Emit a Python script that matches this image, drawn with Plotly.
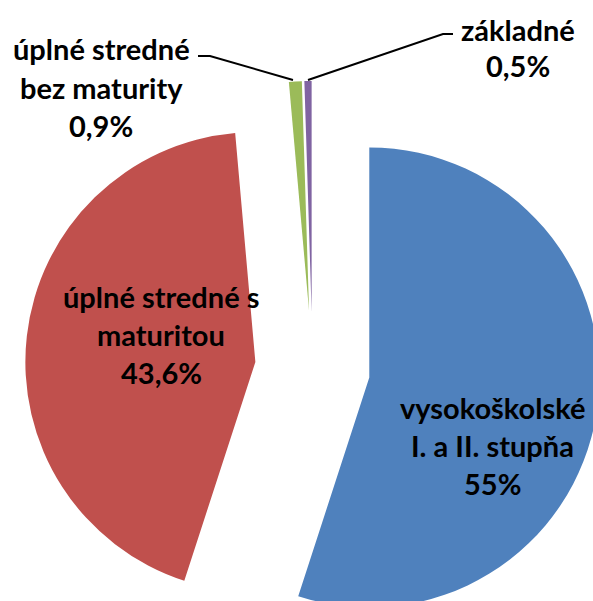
import plotly.graph_objects as go

# ---- data ----
categories = ["vysokoškolské I. a II. stupňa", "úplné stredné s maturitou",
              "úplné stredné bez maturity", "základné"]
values = [55, 43.6, 0.9, 0.5]
pct_labels = ["55%", "43,6%", "0,9%", "0,5%"]
label_lines = [["vysokoškolské", "I. a II. stupňa"],
               ["úplné stredné s", "maturitou"],
               ["úplné stredné", "bez maturity"],
               ["základné"]]
colors = ["#4F81BD", "#C0504D", "#9BBB59", "#8064A2"]

# ---- layout geometry (pixels) ----
ML, MT, MR, MB = 25, 81, 2, 2
PW = PH = 575
W, H = ML + PW + MR, MT + PH + MB


def px(x):
    return (x - ML) / PW


def py(y):
    return 1 - (y - MT) / PH


fig = go.Figure(go.Pie(
    labels=categories, values=values, sort=False, direction="clockwise",
    rotation=0, pull=[0.25] * 4, textinfo="none", hoverinfo="skip",
    marker=dict(colors=colors, line=dict(width=0)), showlegend=False,
))

# label placement (pixel centres of each text line)
label_pos = [
    (492, [407, 445, 483]),
    (161, [296, 334, 372]),
    (101, [48, 87, 125]),
    (518, [30, 66]),
]
font = dict(family="Lato", size=29, color="black", weight="bold")
annotations = []
for lines, pct, (cx, ys) in zip(label_lines, pct_labels, label_pos):
    for txt, yy in zip(lines + [pct], ys):
        annotations.append(dict(text=txt, x=px(cx), y=py(yy), xref="paper", yref="paper",
                                xanchor="center", yanchor="middle", showarrow=False,
                                font=font))


def path(points):
    return "M " + " L ".join(f"{px(a)},{py(b)}" for a, b in points)


shapes = [
    dict(type="path", xref="paper", yref="paper",
         path=path([(198, 56), (210, 56), (293, 80)]), line=dict(color="black", width=2)),
    dict(type="path", xref="paper", yref="paper",
         path=path([(308, 80), (443, 34), (453, 34)]), line=dict(color="black", width=2)),
]

fig.update_layout(
    width=W, height=H, margin=dict(l=ML, t=MT, r=MR, b=MB),
    paper_bgcolor="white", plot_bgcolor="white",
    annotations=annotations, shapes=shapes,
)

fig.write_html("out.html", config={"displayModeBar": False}, post_script=(
    "document.body.style.margin='0';"
    "document.body.style.overflow='hidden';"
    "document.documentElement.style.overflow='hidden';"))
